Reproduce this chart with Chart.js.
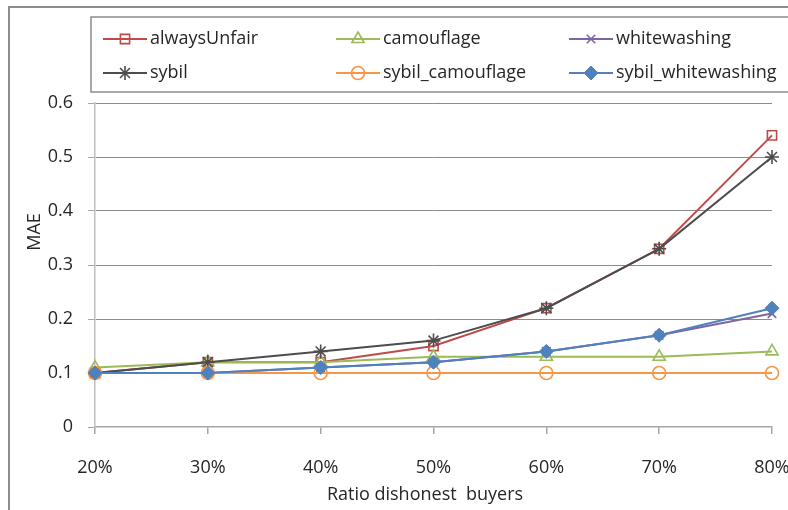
<!DOCTYPE html>
<html>
<head>
<meta charset="utf-8">
<script src="https://cdn.jsdelivr.net/npm/chart.js@4"></script>
<style>
  html, body { margin: 0; padding: 0; background: #fff; overflow: hidden; }
  #wrap { width: 788px; height: 510px; }
  canvas { display: block; }
</style>
</head>
<body>
<div id="wrap"><canvas id="maeChart" width="788" height="510" style="width:788px;height:510px"></canvas></div>
<script>
const ratios = ["20%", "30%", "40%", "50%", "60%", "70%", "80%"];
const seriesNames = ["alwaysUnfair", "camouflage", "whitewashing", "sybil", "sybil_camouflage", "sybil_whitewashing"];
const alwaysUnfair = [0.10, 0.12, 0.12, 0.15, 0.22, 0.33, 0.54];
const camouflage = [0.11, 0.12, 0.12, 0.13, 0.13, 0.13, 0.14];
const whitewashing = [0.10, 0.10, 0.11, 0.12, 0.14, 0.17, 0.21];
const sybil = [0.10, 0.12, 0.14, 0.16, 0.22, 0.33, 0.50];
const sybilCamouflage = [0.10, 0.10, 0.10, 0.10, 0.10, 0.10, 0.10];
const sybilWhitewashing = [0.10, 0.10, 0.11, 0.12, 0.14, 0.17, 0.22];
const yTicks = [0, 0.1, 0.2, 0.3, 0.4, 0.5, 0.6];
const xTitle = "Ratio dishonest  buyers";
const yTitle = "MAE";

const colors = ["#BE4B48", "#9BBB59", "#8064A2", "#4D4D4D", "#F79646", "#4F81BD"];
const shapes = ["rect", "triangle", "crossRot", "star", "circle", "rectRot"];
const filled = [false, false, false, false, false, true];
const radii = [6.5, 7, 6, 7, 6.5, 7];
const values = [alwaysUnfair, camouflage, whitewashing, sybil, sybilCamouflage, sybilWhitewashing];

const FONT = "'Open Sans', sans-serif";
const TXT = "#262626";

const datasets = seriesNames.map((name, i) => ({
    label: name,
    data: values[i],
    borderColor: colors[i],
    backgroundColor: filled[i] ? colors[i] : "rgba(255,255,255,0)",
    borderWidth: 2,
    pointStyle: shapes[i],
    pointRadius: radii[i],
    pointBorderColor: colors[i],
    pointBorderWidth: filled[i] ? 1 : 1.6,
    pointBackgroundColor: filled[i] ? colors[i] : "rgba(255,255,255,0)",
    tension: 0,
    order: seriesNames.length - i
}));

// outer frame, axis titles and the boxed 3-column legend
const framePlugin = {
    id: "frame",
    beforeDraw(chart) {
        const c = chart.ctx;
        c.save();
        c.fillStyle = "#fff";
        c.fillRect(0, 0, chart.width, chart.height);
        c.strokeStyle = "#8c8c8c";
        c.lineWidth = 2;
        c.beginPath();
        c.moveTo(9, chart.height);
        c.lineTo(9, 7);
        c.lineTo(chart.width, 7);
        c.stroke();
        c.restore();
    },
    afterDraw(chart) {
        const c = chart.ctx;
        c.save();
        c.fillStyle = TXT;
        c.font = "18px " + FONT;
        c.textAlign = "center";
        c.textBaseline = "middle";
        c.fillText(xTitle, 425, 495);
        c.save();
        c.translate(35, 232);
        c.rotate(-Math.PI / 2);
        c.fillText(yTitle, 0, 0);
        c.restore();

        c.strokeStyle = "#8c8c8c";
        c.lineWidth = 1.5;
        c.strokeRect(91, 17, 760, 75);
        const colX = [103, 336, 569];
        const rowY = [39, 73];
        chart.data.datasets.forEach((ds, i) => {
            const x = colX[i % 3];
            const y = rowY[Math.floor(i / 3)];
            c.strokeStyle = ds.borderColor;
            c.lineWidth = 2;
            c.beginPath();
            c.moveTo(x, y);
            c.lineTo(x + 44, y);
            c.stroke();
            c.fillStyle = ds.pointBackgroundColor;
            c.strokeStyle = ds.pointBorderColor;
            c.lineWidth = ds.pointBorderWidth;
            const opts = { pointStyle: ds.pointStyle, radius: ds.pointRadius, borderWidth: ds.pointBorderWidth };
            Chart.helpers.drawPoint(c, opts, x + 22, y);
            c.fillStyle = TXT;
            c.font = "18px " + FONT;
            c.textBaseline = "middle";
            c.textAlign = "left";
            c.fillText(ds.label, x + 47, y);
        });
        c.restore();
    }
};

new Chart(document.getElementById("maeChart"), {
    type: "line",
    data: { labels: ratios, datasets: datasets },
    options: {
        responsive: false,
        animation: false,
        layout: { padding: { left: 0, top: 103, right: 16, bottom: 0 } },
        plugins: {
            legend: { display: false },
            tooltip: { enabled: false }
        },
        scales: {
            x: {
                offset: false,
                afterFit(scale) {
                    scale.height = 83;
                    scale.paddingLeft = 0;
                    scale.paddingRight = 0;
                },
                border: { display: true, color: "#a6a6a6", width: 1.5 },
                grid: {
                    drawOnChartArea: false,
                    drawTicks: true,
                    tickLength: 7,
                    color: "#a6a6a6",
                    lineWidth: 1.5
                },
                ticks: {
                    color: TXT,
                    font: { family: FONT, size: 18 },
                    padding: 23,
                    maxRotation: 0
                }
            },
            y: {
                min: 0,
                max: 0.6,
                afterFit(scale) { scale.width = 95; },
                afterBuildTicks(scale) { scale.ticks = yTicks.map(v => ({ value: v })); },
                border: { display: true, color: "#bfbfbf", width: 1.5 },
                grid: {
                    drawTicks: true,
                    tickLength: 7,
                    color: ctx => (ctx.tick && ctx.tick.value === 0 ? "rgba(0,0,0,0)" : "#8c8c8c"),
                    lineWidth: 1,
                    borderDash: [3, 2],
                    tickColor: "#a6a6a6",
                    tickBorderDash: []
                },
                ticks: {
                    color: TXT,
                    font: { family: FONT, size: 18 },
                    padding: 15,
                    callback: v => String(Math.round(v * 10) / 10)
                }
            }
        }
    },
    plugins: [framePlugin]
});
</script>
</body>
</html>
